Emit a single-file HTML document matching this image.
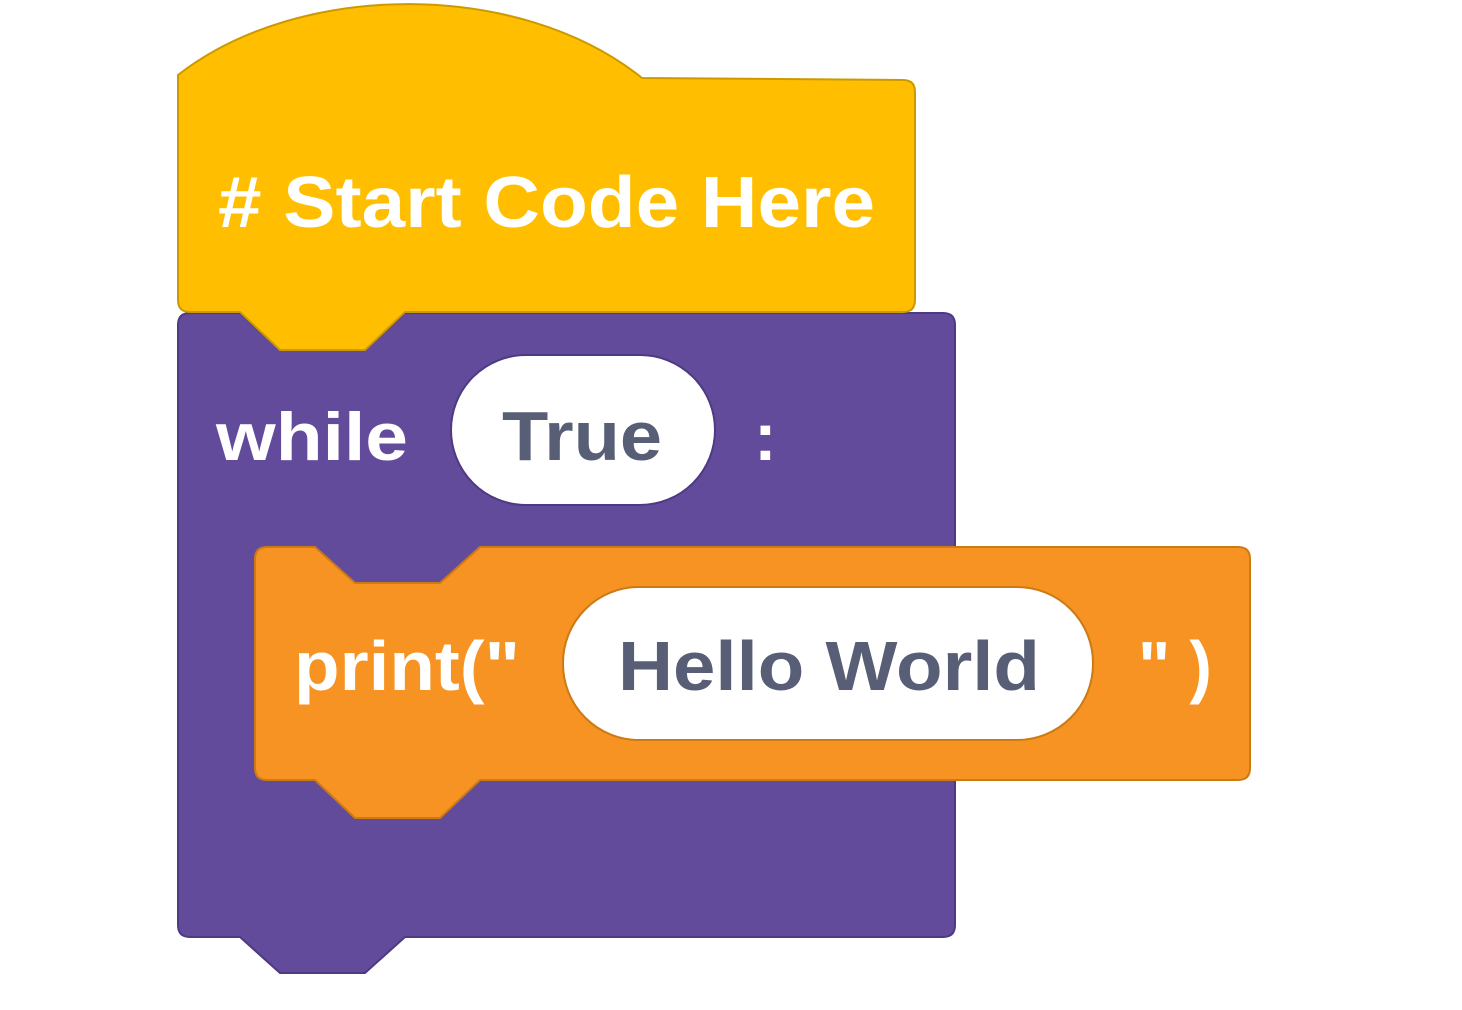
<!DOCTYPE html>
<html><head><style>html,body{margin:0;padding:0;background:#fff;width:1462px;height:1010px;overflow:hidden}</style></head>
<body>
<svg width="1462" height="1010" viewBox="0 0 1462 1010" xmlns="http://www.w3.org/2000/svg" font-family="Liberation Sans, Arial, sans-serif" font-weight="bold">
<!-- purple -->
<path d="M178,325 Q178,313 190,313 L240,313 L280,350 L365,350 L405,313 L943,313 Q955,313 955,325 L955,925 Q955,937 943,937 L405,937 L365,973 L280,973 L240,937 L190,937 Q178,937 178,925 Z" fill="#634B9B" stroke="#4E3A82" stroke-width="2"/>
<!-- yellow -->
<path d="M178,300 L178,75 C300,-20 520,-20 642,78 L903,80 Q915,80 915,92 L915,300 Q915,312 903,312 L405,312 L365,350 L280,350 L240,312 L190,312 Q178,312 178,300 Z" fill="#FFBF00" stroke="#CC9900" stroke-width="2"/>
<!-- orange -->
<path d="M255,559 Q255,547 267,547 L315,547 L355,583 L440,583 L480,547 L1238,547 Q1250,547 1250,559 L1250,768 Q1250,780 1238,780 L480,780 L440,818 L355,818 L315,780 L267,780 Q255,780 255,768 Z" fill="#F79322" stroke="#CC7A15" stroke-width="2"/>
<!-- pills -->
<rect x="451" y="355" width="264" height="150" rx="75" fill="#fff" stroke="#4E3A82" stroke-width="2"/>
<rect x="563" y="587" width="530" height="153" rx="76" fill="#fff" stroke="#CC7A15" stroke-width="2"/>
<!-- text -->
<text x="218" y="227" font-size="72" fill="#fff" textLength="657" lengthAdjust="spacingAndGlyphs"># Start Code Here</text>
<text x="216" y="460" font-size="68" fill="#fff" textLength="192" lengthAdjust="spacingAndGlyphs">while</text>
<text x="502" y="460" font-size="70" fill="#575E75" textLength="160" lengthAdjust="spacingAndGlyphs">True</text>
<text x="754" y="460" font-size="68" fill="#fff">:</text>
<text x="294" y="690" font-size="70" fill="#fff" textLength="226" lengthAdjust="spacingAndGlyphs">print("</text>
<text x="618" y="690" font-size="70" fill="#575E75" textLength="422" lengthAdjust="spacingAndGlyphs">Hello World</text>
<text x="1138" y="690" font-size="70" fill="#fff" textLength="74" lengthAdjust="spacingAndGlyphs">" )</text>
</svg>
</body></html>
